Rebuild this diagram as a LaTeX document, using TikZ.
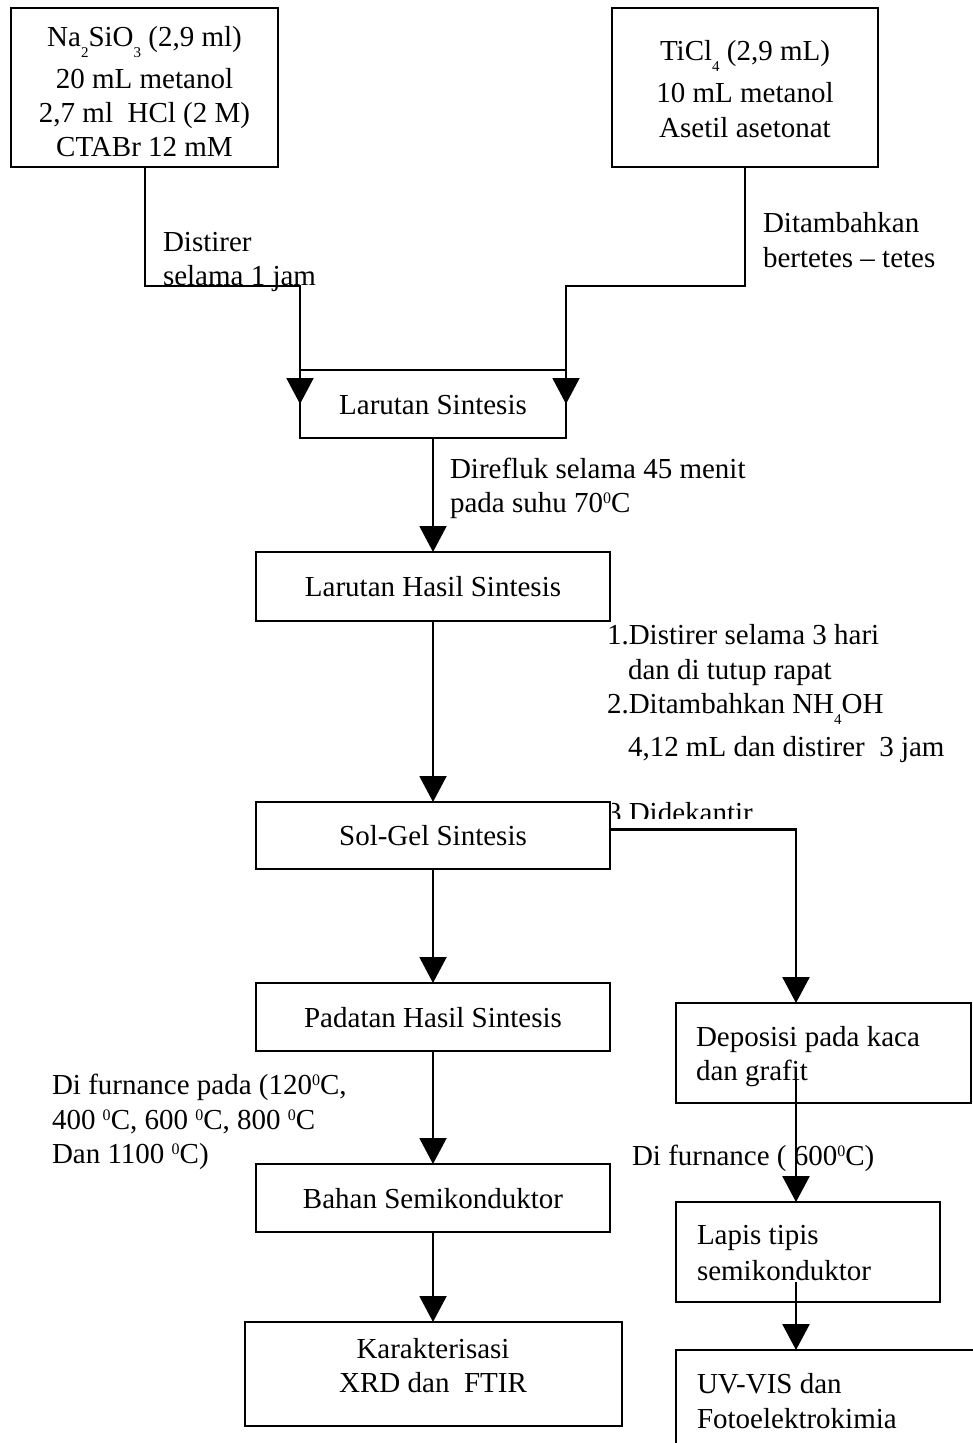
\documentclass[tikz,border=0pt]{standalone}
\usepackage{fontspec}
\setmainfont{Liberation Serif}
\usetikzlibrary{arrows.meta}
\newcommand\dsub[1]{\raisebox{-11pt}{\fontsize{15}{15}\selectfont #1}}
\newcommand\dsup[1]{\raisebox{9pt}{\fontsize{16}{16}\selectfont #1}}
\tikzset{
  box/.style={draw, line width=2pt, inner sep=0pt, outer sep=0pt},
  sbox/.style={box, font=\fontsize{29}{34}\selectfont, text height=20pt, text depth=0pt},
  txt/.style={font=\fontsize{29}{34}\selectfont, inner sep=0pt, outer sep=0pt, align=left},
  ctxt/.style={txt, align=center},
  arr/.style={line width=2pt, -{Triangle[width=27pt,length=26pt]}},
  arrR/.style={arr, line width=2.6pt},
}
\begin{document}
\begin{tikzpicture}[x=1pt,y=-1pt]
\useasboundingbox (0,0) rectangle (973,1443);
\fill[white] (0,0) rectangle (973,1443);

% boxes
\node[box, minimum width=267pt, minimum height=159pt] (b1) at (144.5,87.5) {};
\node[box, minimum width=266pt, minimum height=159pt] (b2) at (745,87.5) {};
\node[sbox, minimum width=266pt, minimum height=68pt] (ls) at (433,404) {Larutan Sintesis};
\node[sbox, minimum width=354pt, minimum height=69pt] (lhs) at (433,586.5) {Larutan Hasil Sintesis};
\node[sbox, minimum width=354pt, minimum height=68pt] (pad) at (433,1017) {Padatan Hasil Sintesis};
\node[sbox, minimum width=354pt, minimum height=68pt] (bahan) at (433,1198) {Bahan Semikonduktor};
\node[box, minimum width=377pt, minimum height=104pt] (kar) at (433,1374) {};
\node[box, minimum width=295pt, minimum height=100pt] (dep) at (823.5,1053) {};
\node[box, minimum width=264pt, minimum height=100pt] (lap) at (808,1252) {};
\node[box, minimum width=314pt, minimum height=110pt] (uv) at (833,1405) {};

% clipped label
\begin{scope}
  \clip (612,790) rectangle (800,818);
  \node[txt, anchor=base west] (l7) at (607,822) {3.Didekantir};
\end{scope}
\node[sbox, minimum width=354pt, minimum height=67pt] (sg) at (433,835.5) {Sol-Gel Sintesis};

% coordinates
\coordinate (cx) at (796,0);
\coordinate (d1) at (796,1080);
\coordinate (p1) at (796,1282);

% connectors
\draw[arr] (b1.south) -- ++(0,119) -| (ls.west);
\draw[arr] (b2.south) -- ++(0,119) -| (ls.east);
\draw[arr] (ls.south) -- (lhs.north);
\draw[arr] (lhs.south) -- (sg.north);
\draw[arr] (sg.south) -- (pad.north);
\draw[arr] (pad.south) -- (bahan.north);
\draw[arr] (bahan.south) -- (kar.north);
\draw[arrR] ([yshift=6pt]sg.east) -| (cx |- dep.north);
\draw[arrR] (d1) -- (cx |- lap.north);
\draw[arrR] (p1) -- (cx |- uv.north);

% texts (anchor base = baseline of last line)
\node[ctxt, anchor=base] (t1) at (144.5,156) {Na\dsub{2}SiO\dsub{3} (2,9 ml)\\[8pt] 20 mL metanol\\ 2,7 ml~~HCl (2 M)\\ CTABr 12 mM};
\node[ctxt, anchor=base] (t2) at (745,137) {TiCl\dsub{4} (2,9 mL)\\[8pt] 10 mL metanol\\[1pt] Asetil asetonat};
\node[txt, anchor=base west] (l1) at (163,285) {Distirer\\ selama 1 jam};
\node[txt, anchor=base west] (l2) at (763,267) {Ditambahkan\\[1pt] bertetes – tetes};
\node[txt, anchor=base west] (l3) at (450,512) {Direfluk selama 45 menit\\ pada suhu 70\dsup{0}C};
\node[txt, anchor=base west] (l4) at (607,756) {1.Distirer selama 3 hari\\[1pt] \hspace*{21pt}dan di tutup rapat\\ 2.Ditambahkan NH\dsub{4}OH\\[9pt] \hspace*{21pt}4,12 mL dan distirer~~3 jam};
\node[txt, anchor=base west] (l5) at (52,1163) {Di furnance pada (120\dsup{0}C,\\[1pt] 400 \dsup{0}C, 600 \dsup{0}C, 800 \dsup{0}C\\ Dan 1100 \dsup{0}C)};
\node[txt, anchor=base west] (l6) at (632,1165) {Di furnance ( 600\dsup{0}C)};
\node[txt, anchor=base west] (t3) at (696,1080) {Deposisi pada kaca\\ dan grafit};
\node[txt, anchor=base west] (t4) at (697,1280) {Lapis tipis\\[2pt] semikonduktor};
\node[txt, anchor=base west] (t5) at (697,1428) {UV-VIS dan\\[1pt] Fotoelektrokimia};
\node[ctxt, anchor=base] (t6) at (433,1392) {Karakterisasi\\ XRD dan~~FTIR};
\end{tikzpicture}
\end{document}
